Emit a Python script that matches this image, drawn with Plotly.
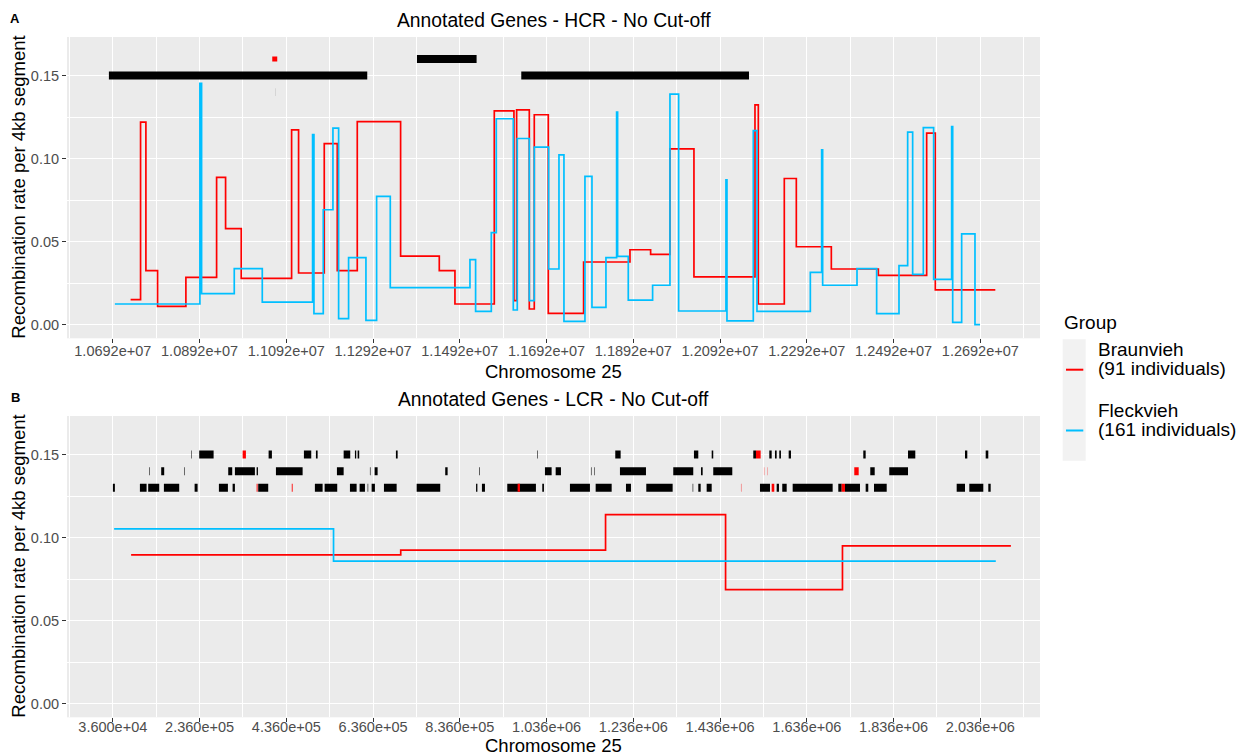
import plotly.graph_objects as go

FONT = "Liberation Sans, Arial, sans-serif"
W, H = 1238, 755

# ---------------- Panel A: HCR region ----------------
# Braunvieh step profile (segment start, rate)
hcr_bv_pos = [10733000, 10756000, 10768300, 10795200, 10860500, 10931300, 10952000,
              10988100, 11104200, 11120300, 11179500, 11209500, 11255600, 11355500,
              11444700, 11480800, 11571500, 11616800, 11623000, 11652200, 11663700,
              11696000, 11777400, 11884300, 11931900, 11976500, 12031800, 12172500,
              12180200, 12240100, 12267800, 12348500, 12456900, 12568300, 12588300,
              12726600]
hcr_bv_rate = [0.0150, 0.1220, 0.0325, 0.0110, 0.0285, 0.0887, 0.0578,
               0.0279, 0.1173, 0.0311, 0.1090, 0.0325, 0.1223, 0.0413,
               0.0325, 0.0124, 0.1288, 0.0144, 0.1294, 0.0094, 0.1264,
               0.0068, 0.0377, 0.0451, 0.0423, 0.1059, 0.0287, 0.1324,
               0.0124, 0.0880, 0.0469, 0.0335, 0.0297, 0.1153, 0.0209,
               0.0209]

# Fleckvieh step profile
hcr_fv_pos = [10696800, 10892800, 10896700, 10972000, 11036600, 11152600, 11155700,
              11177200, 11199500, 11212600, 11235600, 11275600, 11300200, 11331700,
              11515400, 11528400, 11564600, 11576100, 11615300, 11624500, 11652200,
              11663700, 11696800, 11720600, 11732100, 11780500, 11796700, 11828900,
              11853500, 11855800, 11880400, 11936500, 11976500, 11996500, 12105600,
              12107900, 12168600, 12177100, 12300100, 12326200, 12328500, 12407700,
              12453000, 12504500, 12524500, 12536000, 12560600, 12584400, 12625900,
              12628300, 12649000, 12679700, 12691300]
hcr_fv_rate = [0.0124, 0.1454, 0.0187, 0.0337, 0.0136, 0.1145, 0.0066,
               0.0692, 0.1183, 0.0036, 0.0403, 0.0026, 0.0772, 0.0223,
               0.0391, 0.0080, 0.0554, 0.1240, 0.0088, 0.1121, 0.0144,
               0.1069, 0.0335, 0.1023, 0.0020, 0.0893, 0.0104, 0.0403,
               0.1280, 0.0411, 0.0148, 0.0237, 0.1388, 0.0082, 0.0872,
               0.0022, 0.1169, 0.0080, 0.0315, 0.1053, 0.0237, 0.0337,
               0.0066, 0.0355, 0.1159, 0.0303, 0.1187, 0.0273, 0.1193,
               0.0014, 0.0546, 0.0000, 0.0000]

# Annotated genes in the HCR window
hcr_gene_start = [10683000, 11393200, 11633700, 11059600, 11067300]
hcr_gene_end = [11278600, 11530700, 12158700, 11071100, 11067500]
hcr_gene_row = [0.15, 0.16, 0.15, 0.16, 0.14]
hcr_gene_red = [0, 0, 0, 1, 0]

hcr_tick_vals = [10692000, 10892000, 11092000, 11292000, 11492000, 11692000,
                 11892000, 12092000, 12292000, 12492000, 12692000]
hcr_tick_text = ["1.0692e+07", "1.0892e+07", "1.1092e+07", "1.1292e+07", "1.1492e+07",
                 "1.1692e+07", "1.1892e+07", "1.2092e+07", "1.2292e+07", "1.2492e+07",
                 "1.2692e+07"]

# ---------------- Panel B: LCR region ----------------
lcr_bv_pos = [78200, 699800, 1172000, 1448700, 1718200, 2106500]
lcr_bv_rate = [0.0896, 0.0924, 0.1138, 0.0686, 0.0950, 0.0950]
lcr_fv_pos = [39000, 544900, 2071700]
lcr_fv_rate = [0.1052, 0.0858, 0.0858]

lcr_gene_start = [
    # row 0.15
    216800, 235200, 395200, 476600, 504300, 568200, 594200, 600400, 688700, 1014500,
    1194400, 1375800, 1416700, 1512600, 1549500, 1562600, 1572500, 1594200, 1766200,
    1869300, 2000700, 2048400, 335300, 1518800,
    # row 0.14
    119900, 147600, 200600, 302100, 317500, 367600, 412100, 552700, 628800, 639600,
    802400, 881000, 1032300, 1057000, 1138400, 1146000, 1205200, 1328100, 1392000,
    1420300, 1782300, 1826100, 1537200, 1545800, 1745400,
    # row 0.13
    36200, 98500, 117600, 153800, 224600, 280600, 312200, 371200, 501900, 524300,
    582700, 605000, 623500, 632700, 661100, 736500, 873500, 887000, 945400, 1026100,
    1089900, 1149200, 1219100, 1265900, 1372800, 1385800, 1405100, 1528000, 1566500,
    1579400, 1603400, 1708600, 1724000, 1771700, 1790900, 1981500, 2010600, 2054400,
    367600, 448600, 969300, 1484200, 1555000, 1716400]
lcr_gene_end = [
    218000, 268400, 402800, 493500, 508200, 583400, 597200, 604100, 692700, 1015800,
    1206800, 1385800, 1420300, 1518800, 1555000, 1566500, 1576400, 1599500, 1771700,
    1886100, 2006000, 2054400, 342900, 1529600,
    121200, 154500, 201900, 311300, 363600, 370600, 473600, 568200, 630100, 646500,
    807900, 882400, 1047700, 1069200, 1139600, 1147200, 1265200, 1374200, 1395900,
    1464200, 1792500, 1869300, 1537800, 1546400, 1755600,
    40800, 113900, 143000, 189100, 231500, 301400, 317500, 394300, 519700, 553400,
    598100, 617300, 624800, 640300, 690400, 790900, 876500, 894000, 1011500, 1030000,
    1136000, 1186100, 1230600, 1326700, 1374100, 1391300, 1416700, 1551100, 1571800,
    1589600, 1695600, 1716400, 1758600, 1777700, 1820200, 2000700, 2042900, 2059900,
    369800, 450600, 974700, 1485000, 1561000, 1724000]
lcr_gene_row = [0.15] * 24 + [0.14] * 25 + [0.13] * 44
lcr_gene_red = ([0] * 22 + [1] * 2 +
                [0] * 22 + [1] * 3 +
                [0] * 38 + [1] * 6)

lcr_tick_vals = [36000, 236000, 436000, 636000, 836000, 1036000, 1236000, 1436000,
                 1636000, 1836000, 2036000]
lcr_tick_text = ["3.600e+04", "2.360e+05", "4.360e+05", "6.360e+05", "8.360e+05",
                 "1.036e+06", "1.236e+06", "1.436e+06", "1.636e+06", "1.836e+06",
                 "2.036e+06"]

rate_tick_vals = [0.0, 0.05, 0.10, 0.15]
rate_tick_text = ["0.00", "0.05", "0.10", "0.15"]

group_names = ["Braunvieh", "Fleckvieh"]
group_sizes = [91, 161]
group_colors = ["#FF0000", "#00BFFF"]


def segments(starts, ends, rows, flags, want):
    xs, ys = [], []
    for s, e, r, f in zip(starts, ends, rows, flags):
        if f == want:
            xs += [s, e, None]
            ys += [r, r, None]
    return xs, ys


fig = go.Figure()

# gene tracks
for (xa, ya, st, en, rw, fl) in [("x", "y", hcr_gene_start, hcr_gene_end, hcr_gene_row, hcr_gene_red),
                                 ("x2", "y2", lcr_gene_start, lcr_gene_end, lcr_gene_row, lcr_gene_red)]:
    for want, col in [(0, "#000000"), (1, "#FF0000")]:
        gx, gy = segments(st, en, rw, fl, want)
        width = 8
        if xa == "x" and want == 1:
            width = 5
        fig.add_trace(go.Scatter(x=gx, y=gy, mode="lines", xaxis=xa, yaxis=ya,
                                 line=dict(color=col, width=width, simplify=False),
                                 showlegend=False, hoverinfo="skip"))

# recombination step profiles
for xa, ya, series in [("x", "y", [(hcr_bv_pos, hcr_bv_rate), (hcr_fv_pos, hcr_fv_rate)]),
                       ("x2", "y2", [(lcr_bv_pos, lcr_bv_rate), (lcr_fv_pos, lcr_fv_rate)])]:
    for (px, py), name, col in zip(series, group_names, group_colors):
        fig.add_trace(go.Scatter(x=px, y=py, mode="lines", xaxis=xa, yaxis=ya, name=name,
                                 line=dict(color=col, width=1.7, shape="hv", simplify=False),
                                 showlegend=False))

# panel geometry in pixels
PL, PR = 67, 1040
A_TOP, A_BOT = 37, 338.3
B_TOP, B_BOT = 416, 717.3


def fx(p):
    return p / W


def fy(p):
    return 1 - p / H


def axis_common():
    return dict(showline=False, zeroline=False, ticks="outside", ticklen=4,
                tickwidth=1.1, tickcolor="#333333", tickmode="array",
                tickfont=dict(family=FONT, size=14.5, color="#4D4D4D"),
                showgrid=True, gridcolor="#FFFFFF", gridwidth=1.1)


minor_style = dict(showgrid=True, gridcolor="#FFFFFF", gridwidth=0.55, ticks="")
hcr_minor = [v - 100000 for v in hcr_tick_vals] + [hcr_tick_vals[-1] + 100000]
lcr_minor = [v - 100000 for v in lcr_tick_vals] + [lcr_tick_vals[-1] + 100000]
rate_minor = [0.025, 0.075, 0.125]
y_range = [-0.00825, 0.17325]

fig.update_layout(
    width=W, height=H,
    margin=dict(l=0, r=0, t=0, b=0),
    paper_bgcolor="#FFFFFF", plot_bgcolor="#EBEBEB",
    font=dict(family=FONT, color="#000000"),
    xaxis=dict(**axis_common(), domain=[fx(PL), fx(PR)], anchor="y", ticklabelstandoff=-5,
               range=[10586400, 12829600], tickvals=hcr_tick_vals, ticktext=hcr_tick_text,
               minor=dict(**minor_style, tickvals=hcr_minor)),
    yaxis=dict(**axis_common(), domain=[fy(A_BOT), fy(A_TOP)], anchor="x",
               range=y_range, tickvals=rate_tick_vals, ticktext=rate_tick_text,
               minor=dict(**minor_style, tickvals=rate_minor)),
    xaxis2=dict(**axis_common(), domain=[fx(PL), fx(PR)], anchor="y2", ticklabelstandoff=-8,
                range=[-69600, 2173600], tickvals=lcr_tick_vals, ticktext=lcr_tick_text,
                minor=dict(**minor_style, tickvals=lcr_minor)),
    yaxis2=dict(**axis_common(), domain=[fy(B_BOT), fy(B_TOP)], anchor="x2",
                range=y_range, tickvals=rate_tick_vals, ticktext=rate_tick_text,
                minor=dict(**minor_style, tickvals=rate_minor)),
)

ann = []


def text(x, y, s, size, xanchor="center", yanchor="middle", angle=0, bold=False):
    if bold:
        s = "<b>" + s + "</b>"
    ann.append(dict(x=fx(x), y=fy(y), xref="paper", yref="paper", text=s,
                    showarrow=False, xanchor=xanchor, yanchor=yanchor, textangle=angle,
                    font=dict(family=FONT, size=size, color="#000000")))


mid_x = (PL + PR) / 2
text(mid_x, 20, "Annotated Genes - HCR - No Cut-off", 19.3)
text(mid_x, 399, "Annotated Genes - LCR - No Cut-off", 19.3)
text(15, 18, "A", 13, bold=True)
text(15, 397, "B", 13, bold=True)
text(mid_x, 371, "Chromosome 25", 18.5)
text(mid_x, 745, "Chromosome 25", 18.5)
text(19, (A_TOP + A_BOT) / 2, "Recombination rate per 4kb segment", 18.5, angle=-90)
text(19, (B_TOP + B_BOT) / 2, "Recombination rate per 4kb segment", 18.5, angle=-90)

# legend
text(1062, 322, "Group", 19, xanchor="left")
shapes = [dict(type="rect", xref="paper", yref="paper", x0=fx(1062.7), x1=fx(1085.7),
               y0=fy(460.7), y1=fy(339.3), fillcolor="#F2F2F2", line=dict(width=0),
               layer="below")]
key_y = [369.7, 430.5]
for name, n, col, ky in zip(group_names, group_sizes, group_colors, key_y):
    shapes.append(dict(type="line", xref="paper", yref="paper", x0=fx(1066), x1=fx(1083.3),
                       y0=fy(ky), y1=fy(ky), line=dict(color=col, width=2)))
    text(1096, ky - 20.5, name, 19, xanchor="left")
    text(1096, ky - 1, "(%d individuals)" % n, 19, xanchor="left")

fig.update_layout(annotations=ann, shapes=shapes)

fig.write_html("out.html")
